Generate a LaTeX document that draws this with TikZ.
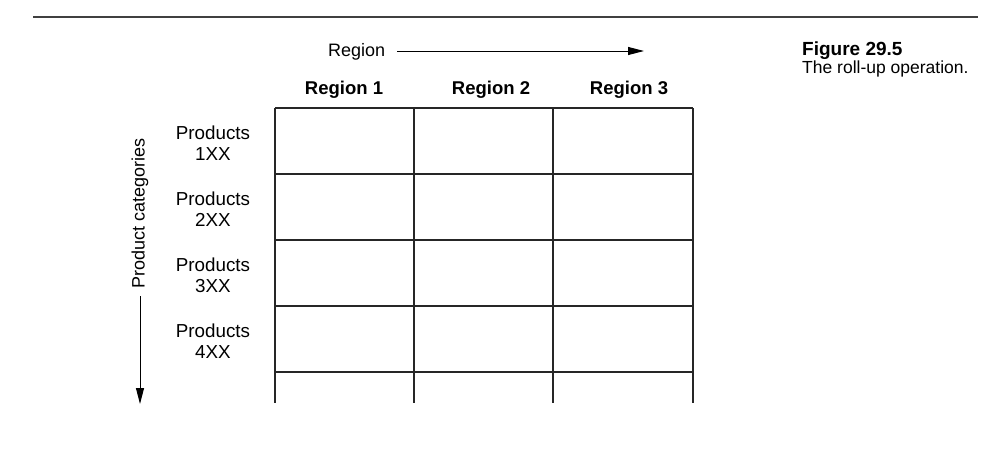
\documentclass[tikz,border=0pt]{standalone}
\usepackage{fontspec}
\setmainfont{Liberation Sans}
\usetikzlibrary{arrows.meta}
\tikzset{
  lbl/.style={font=\fontsize{18}{21}\selectfont, inner sep=0pt, align=center},
  rowlbl/.style={font=\fontsize{18.8}{21}\selectfont, inner sep=0pt, align=center},
  hdr/.style={font=\fontsize{18.5}{21}\selectfont\bfseries, inner sep=0pt},
  gridline/.style={line width=1.1pt, draw=black!85},
  arr/.style={line width=1pt, -{Triangle[length=16pt,width=8pt]}},
  rule/.style={line width=1.2pt, draw=black!75},
}
\begin{document}
\begin{tikzpicture}[x=1pt,y=1pt]
\useasboundingbox (0,0) rectangle (994,-458);
% top rule
\coordinate (r1) at (33,-17);
\coordinate (r2) at (978,-17);
\draw[rule] (r1) -- (r2);
% caption
\node[anchor=base west, inner sep=0pt, font=\fontsize{19}{21}\selectfont\bfseries] (fig) at (802,-55) {Figure 29.5};
\node[anchor=base west, inner sep=0pt, font=\fontsize{17.5}{21}\selectfont] (cap) at (802,-73) {The roll-up operation.};
% Region axis
\node[lbl, anchor=base west] (reg) at (328,-56) {Region};
\coordinate (regend) at (644,-51);
\draw[arr] (reg.east |- regend) ++(12,0) -- (regend);
% headers
\node[hdr, anchor=base] (h1) at (344,-94) {Region 1};
\node[hdr, anchor=base] (h2) at (491,-94) {Region 2};
\node[hdr, anchor=base] (h3) at (629,-94) {Region 3};
% grid
\foreach \y in {108,174,240,306,372}
  \draw[gridline] (275,-\y) -- (693,-\y);
\foreach \x in {275,414,553,693}
  \draw[gridline] (\x,-108) -- (\x,-403);
% row labels
\node[rowlbl] (p1) at (213,-143) {Products\\1XX};
\node[rowlbl] (p2) at (213,-209) {Products\\2XX};
\node[rowlbl] (p3) at (213,-275) {Products\\3XX};
\node[rowlbl] (p4) at (213,-341) {Products\\4XX};
% Product categories axis
\node[lbl, rotate=90, anchor=west] (pc) at (140,-289) {Product categories};
\coordinate (pcend) at (140,-404);
\draw[arr] (pc.west) ++(0,-7) -- (pcend);
\end{tikzpicture}
\end{document}
